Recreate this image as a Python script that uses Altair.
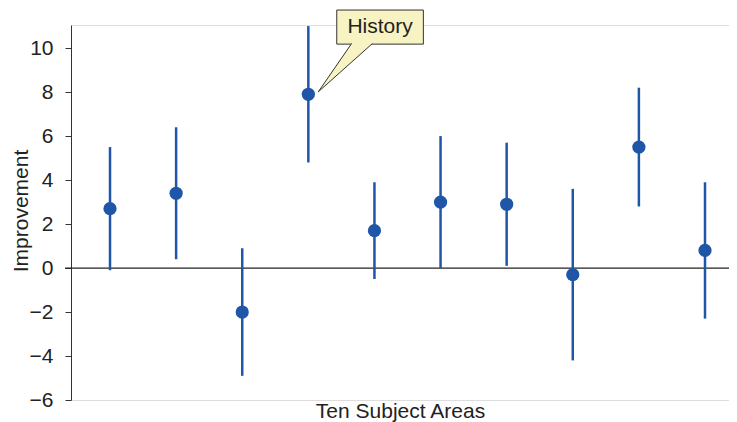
import altair as alt
import pandas as pd

# ---- data ----
subject_index = [0, 1, 2, 3, 4, 5, 6, 7, 8, 9]
improvement = [2.7, 3.4, -2.0, 7.9, 1.7, 3.0, 2.9, -0.3, 5.5, 0.8]
upper = [5.5, 6.4, 0.9, 11.0, 3.9, 6.0, 5.7, 3.6, 8.2, 3.9]
lower = [-0.1, 0.4, -4.9, 4.8, -0.5, 0.0, 0.1, -4.2, 2.8, -2.3]
y_ticks = list(range(-6, 11))
callout_label = "History"

df = pd.DataFrame({"i": subject_index, "v": improvement, "hi": upper, "lo": lower})

BLUE = "#1f56a8"
AX = "#333333"
FONT = "Liberation Sans"
FS = 21
XDOM = [-0.59, 9.363]
YDOM = [-6, 11.05]
W, H = 658, 375

xs = alt.Scale(domain=XDOM, nice=False, zero=False)
ys = alt.Scale(domain=YDOM, nice=False, zero=False)

x_enc = alt.X("i:Q", scale=xs,
              axis=alt.Axis(title="Ten Subject Areas", domain=False, ticks=False,
                            labels=False, grid=False, titlePadding=0,
                            titleFontSize=FS, titleFont=FONT, titleColor="#222",
                            titleFontWeight="normal"))
y_axis = alt.Axis(title="Improvement", values=y_ticks,
                  labelExpr="datum.value % 2 == 0 ? datum.label : ''",
                  tickSize=6, labelPadding=12, domainColor=AX, tickColor=AX,
                  labelFontSize=FS, titleFontSize=FS, labelFont=FONT, titleFont=FONT,
                  labelColor="#222", titleColor="#222", titleFontWeight="normal",
                  grid=False, titleX=-50, titleY=H / 2 - 2, titleBaseline="middle",
                  titleAngle=270, titleAlign="center")

base = alt.Chart(df)

zero = alt.Chart(pd.DataFrame({"z": [0]})).mark_rule(color="#222222", strokeWidth=1.2).encode(
    y=alt.Y("z:Q", scale=ys, axis=y_axis),
    x=alt.value(-6), x2=alt.value(W + 10))

bars = base.mark_rule(color=BLUE, strokeWidth=2.5).encode(
    x=x_enc, y=alt.Y("lo:Q", scale=ys), y2="hi:Q")

pts = base.mark_circle(color=BLUE, size=175, opacity=1).encode(
    x=alt.X("i:Q", scale=xs), y=alt.Y("v:Q", scale=ys))

# ---- callout annotation (data-space placement) ----
box = alt.Chart(pd.DataFrame({"x": [3.43], "x2": [4.74], "y": [10.18], "y2": [11.73]})).mark_rect(
    fill="#f7f3c2", stroke=AX, strokeWidth=1).encode(
    x=alt.X("x:Q", scale=xs), x2="x2:Q", y=alt.Y("y:Q", scale=ys), y2="y2:Q")

tri = alt.Chart(pd.DataFrame({"x": [3.15, 3.664, 3.985], "y": [8.01, 10.25, 10.25],
                              "y2": [8.01, 9.389, 10.25]})).mark_area(
    color="#f7f3c2", opacity=1).encode(
    x=alt.X("x:Q", scale=xs), y=alt.Y("y:Q", scale=ys), y2="y2:Q")

edges = alt.Chart(pd.DataFrame({"x": [3.15, 3.655, 3.15, 3.97], "y": [8.01, 10.21, 8.01, 10.21],
                                "g": ["a", "a", "b", "b"], "o": [0, 1, 0, 1]})).mark_line(
    color=AX, strokeWidth=1).encode(
    x=alt.X("x:Q", scale=xs), y=alt.Y("y:Q", scale=ys), detail="g:N", order="o:Q")

txt = alt.Chart(pd.DataFrame({"x": [4.085], "y": [10.95], "t": [callout_label]})).mark_text(
    font=FONT, fontSize=FS, color="#222", align="center", baseline="middle").encode(
    x=alt.X("x:Q", scale=xs), y=alt.Y("y:Q", scale=ys), text="t:N")

chart = alt.layer(zero, bars, pts, box, tri, edges, txt).properties(
    width=W, height=H,
    autosize=alt.AutoSizeParams(type="none"),
    padding={"left": 63, "top": 17, "right": 0, "bottom": 22},
).configure_view(stroke=None).configure(background="white")

chart.save("out.html", embed_options={"renderer": "svg", "actions": False})
